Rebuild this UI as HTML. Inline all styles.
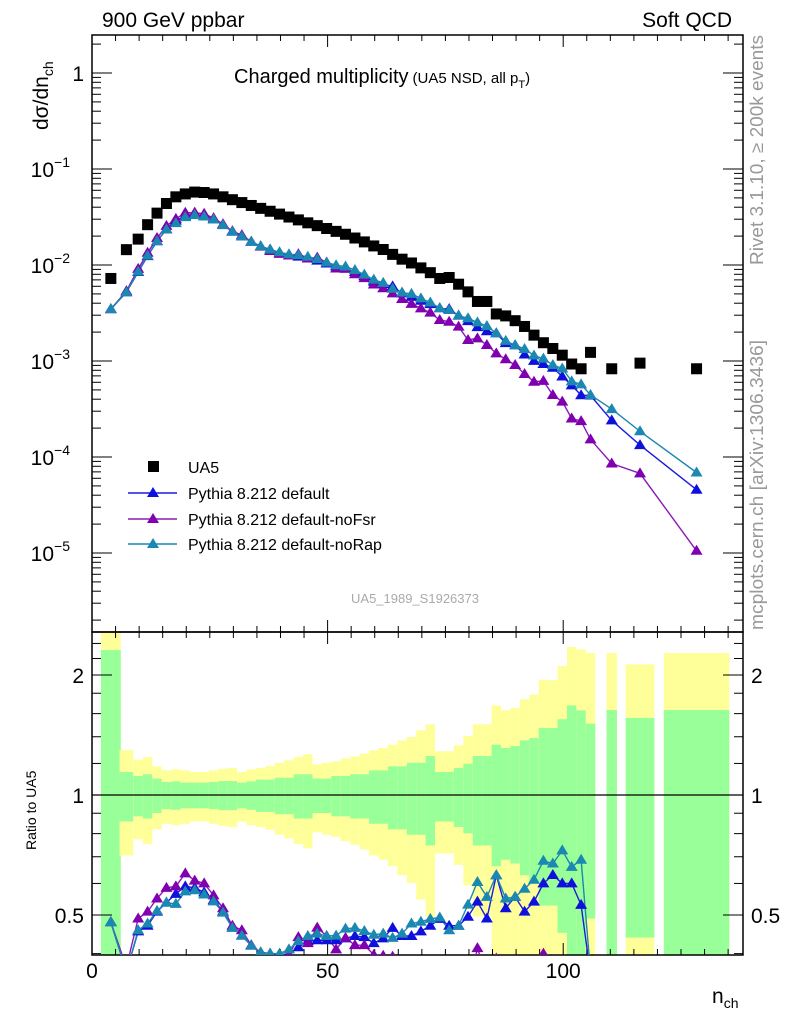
<!DOCTYPE html>
<html><head><meta charset="utf-8"><style>
html,body{margin:0;padding:0;background:#fff;width:786px;height:1024px;overflow:hidden}
svg{display:block;font-family:"Liberation Sans",Arial,sans-serif;overflow:hidden}
</style></head><body>
<svg id="chart" width="786" height="1024" viewBox="0 0 786 1024" xmlns="http://www.w3.org/2000/svg">
<defs>
<clipPath id="cm"><rect x="92" y="35" width="651" height="597"/></clipPath>
<clipPath id="cr"><rect x="92" y="632" width="651" height="323"/></clipPath>
</defs>
<g id="bands" clip-path="url(#cr)"></g>
<g id="axes"></g>
<g id="mainMarks" clip-path="url(#cm)"></g>
<g id="ratioMarks" clip-path="url(#cr)"></g>
<text x="102" y="27" font-size="21">900 GeV ppbar</text>
<text x="732" y="27" font-size="21" text-anchor="end">Soft QCD</text>
<text x="234" y="83" font-size="20">Charged multiplicity<tspan font-size="15" dx="4">(UA5 NSD, all p</tspan><tspan font-size="11" dy="5">T</tspan><tspan font-size="15" dy="-5">)</tspan></text>
<text x="415" y="603" font-size="13" fill="#aaa" text-anchor="middle">UA5_1989_S1926373</text>
<text transform="translate(48,130) rotate(-90)" font-size="21">dσ/dn<tspan font-size="14" dy="5">ch</tspan></text>
<text transform="translate(36,850) rotate(-90)" font-size="14">Ratio to UA5</text>
<text x="712" y="1003" font-size="21">n<tspan font-size="14" dy="5">ch</tspan></text>
<text transform="translate(763,265) rotate(-90)" font-size="18" fill="#999" textLength="230" lengthAdjust="spacingAndGlyphs">Rivet 3.1.10, ≥ 200k events</text>
<text transform="translate(763,630) rotate(-90)" font-size="18" fill="#999" textLength="290" lengthAdjust="spacingAndGlyphs">mcplots.cern.ch [arXiv:1306.3436]</text>
<g id="legend">
<rect x="148" y="461" width="11" height="11" fill="#000"/>
<text x="188" y="473" font-size="16">UA5</text>
<line x1="128" y1="493" x2="177" y2="493" stroke="#1a1ae0" stroke-width="1.5"/>
<path d="M153,487 l6,10 h-12z" fill="#1010dd"/>
<text x="188" y="499" font-size="16">Pythia 8.212 default</text>
<line x1="128" y1="519" x2="177" y2="519" stroke="#8a1ab8" stroke-width="1.5"/>
<path d="M153,513 l6,10 h-12z" fill="#8000b0"/>
<text x="188" y="525" font-size="16">Pythia 8.212 default-noFsr</text>
<line x1="128" y1="544" x2="177" y2="544" stroke="#1a88b0" stroke-width="1.5"/>
<path d="M153,538 l6,10 h-12z" fill="#1a88b0"/>
<text x="188" y="550" font-size="16">Pythia 8.212 default-noRap</text>
</g>
</svg>
<script>
// ---- data ----
const nch = [4,7.3,9.8,11.8,13.8,15.8,17.8,19.8,21.8,23.8,25.8,27.8,29.8,31.8,33.8,35.8,37.8,39.8,41.8,43.8,45.8,47.8,49.8,51.8,53.8,55.8,57.8,59.8,61.8,63.8,65.8,67.8,69.8,71.8,73.8,75.8,77.8,79.8,81.8,83.8,85.8,87.8,89.8,91.8,93.8,95.8,97.8,99.8,101.8,103.8,105.8,110.3,116.3,128.3];
const binHalf = [2.1,1.45,1,1,1,1,1,1,1,1,1,1,1,1,1,1,1,1,1,1,1,1,1,1,1,1,1,1,1,1,1,1,1,1,1,1,1,1,1,1,1,1,1,1,1,1,1,1,1,1,1,1.1,3.05,6.95];
const ua5 = [0.00724,0.01445,0.0186,0.0263,0.0347,0.0437,0.0513,0.0550,0.0575,0.0569,0.0550,0.0513,0.0479,0.0447,0.0417,0.0389,0.0363,0.0339,0.0316,0.0295,0.0275,0.0257,0.0240,0.0224,0.0209,0.0191,0.0174,0.0158,0.0145,0.0129,0.0115,0.0105,0.00933,0.00832,0.00724,0.00741,0.00631,0.00525,0.00417,0.00417,0.00309,0.00295,0.00263,0.00229,0.00186,0.00155,0.00135,0.00115,0.00093,0.00083,0.00123,0.00083,0.00095,0.00083];
const errYellow = [1.7,0.295,0.226,0.246,0.180,0.153,0.160,0.153,0.142,0.142,0.153,0.164,0.169,0.142,0.160,0.169,0.182,0.205,0.222,0.246,0.265,0.194,0.205,0.215,0.234,0.250,0.270,0.295,0.312,0.337,0.371,0.398,0.453,0.504,0.287,0.287,0.332,0.406,0.504,0.504,0.678,0.631,0.653,0.738,0.785,0.947,0.940,1.107,1.351,1.320,1.271,1.271,1.127,1.271];
const errGreen = [1.31,0.142,0.116,0.127,0.099,0.078,0.082,0.074,0.074,0.074,0.078,0.084,0.084,0.074,0.082,0.093,0.093,0.105,0.105,0.127,0.127,0.099,0.099,0.116,0.116,0.127,0.127,0.153,0.153,0.180,0.180,0.205,0.205,0.253,0.142,0.142,0.169,0.198,0.253,0.253,0.337,0.312,0.327,0.371,0.39,0.472,0.472,0.549,0.678,0.631,0.51,0.634,0.561,0.634];
const ratioDefault = [0.48,0.36,0.455,0.47,0.51,0.537,0.565,0.59,0.585,0.57,0.545,0.51,0.465,0.444,0.419,0.403,0.40,0.398,0.398,0.415,0.43,0.432,0.432,0.432,0.437,0.443,0.44,0.425,0.437,0.464,0.443,0.443,0.455,0.47,0.489,0.47,0.47,0.495,0.54,0.49,0.629,0.52,0.555,0.51,0.54,0.60,0.63,0.60,0.60,0.53,0.355,0.29,0.14,0.055];
const ratioNoFsr = [0.48,0.37,0.49,0.51,0.55,0.585,0.59,0.636,0.61,0.60,0.56,0.52,0.47,0.458,0.42,0.40,0.385,0.385,0.397,0.44,0.425,0.465,0.443,0.41,0.438,0.42,0.42,0.397,0.395,0.393,0.385,0.375,0.379,0.383,0.369,0.346,0.361,0.315,0.413,0.352,0.389,0.353,0.345,0.32,0.327,0.40,0.328,0.328,0.271,0.285,0.124,0.103,0.071,0.0127];
const ratioNoRap = [0.48,0.36,0.458,0.476,0.512,0.537,0.533,0.573,0.577,0.563,0.541,0.507,0.464,0.444,0.419,0.403,0.40,0.40,0.41,0.430,0.443,0.449,0.443,0.444,0.462,0.464,0.456,0.446,0.449,0.438,0.449,0.476,0.481,0.489,0.493,0.458,0.470,0.531,0.605,0.555,0.629,0.550,0.555,0.582,0.613,0.684,0.673,0.726,0.660,0.688,0.36,0.38,0.195,0.083];
const xTicksMajor = [0,50,100];
const mainTickExps = [0,-1,-2,-3,-4,-5];
const ratioTickValues = [2,1,0.5];
const ratioTickLabels = ["2","1","0.5"];

// ---- axes ----
const NS='http://www.w3.org/2000/svg';
const X0=92, X1=743, MT=35, MB=632, RB=955;
const xS = n => 92 + n*4.712;
const yM = v => 73 - 96*Math.log10(v);
const yR = r => 795 - 120*Math.log2(r);
function mk(tag, attrs, parent){const e=document.createElementNS(NS,tag);for(const k in attrs)e.setAttribute(k,attrs[k]);parent.appendChild(e);return e;}
const axes=document.getElementById('axes');
const bands=document.getElementById('bands');
const mainG=document.getElementById('mainMarks');
const ratG=document.getElementById('ratioMarks');

for(let i=0;i<nch.length;i++){
  const xl=xS(nch[i]-binHalf[i]), xr=xS(nch[i]+binHalf[i]);
  const yy=errYellow[i], gg=errGreen[i];
  const yt=Math.max(yR(1+yy),MB), yb=(1-yy)>0.01?Math.min(yR(1-yy),RB):RB;
  const r1=mk('rect',{x:xl,y:yt,width:xr-xl,height:yb-yt,fill:'#ffff99'},bands);
  
  
  const gt=Math.max(yR(1+gg),MB), gb=(1-gg)>0.01?Math.min(yR(1-gg),RB):RB;
  const r2=mk('rect',{x:xl,y:gt,width:xr-xl,height:gb-gt,fill:'#99ff99'},bands);
  
  
}
mk('line',{x1:X0,y1:795,x2:X1,y2:795,stroke:'#000','stroke-width':1.3},bands);

const f1=mk('rect',{x:X0,y:MT,width:X1-X0,height:MB-MT,fill:'none',stroke:'#000','stroke-width':1.5},axes);


const f2=mk('rect',{x:X0,y:MB,width:X1-X0,height:RB-MB,fill:'none',stroke:'#000','stroke-width':1.5},axes);



for(let n=0;n<=135;n+=10){
  const x=xS(n); const major=xTicksMajor.includes(n);
  const L=major?12:6;
  [[MT,1],[MB,-1],[MB,1],[RB,-1]].forEach(([y,d])=>mk('line',{x1:x,y1:y,x2:x,y2:y+d*L,stroke:'#000','stroke-width':1},axes));
}
for(let n=5;n<=135;n+=10){ const x=xS(n);
  [[MT,1],[MB,-1],[MB,1],[RB,-1]].forEach(([y,d])=>mk('line',{x1:x,y1:y,x2:x,y2:y+d*6,stroke:'#000','stroke-width':1},axes));
}
xTicksMajor.forEach(n=>{
  const t=mk('text',{x:xS(n),y:978,'font-size':21,'text-anchor':'middle'},axes);
  t.textContent=String(n);
  
  
});
for(let e=0;e>=-6;e--){
  for(let m=1;m<10;m++){
    const v=m*Math.pow(10,e), y=yM(v);
    if(y<MT||y>MB) continue;
    const L=m===1?20:9;
    mk('line',{x1:X0,y1:y,x2:X0+L,y2:y,stroke:'#000','stroke-width':1},axes);
    mk('line',{x1:X1,y1:y,x2:X1-L,y2:y,stroke:'#000','stroke-width':1},axes);
  }
}
mainTickExps.forEach(e=>{
  const y=yM(Math.pow(10,e));
  const t=mk('text',{x:84,y:y+8,'font-size':21,'text-anchor':'end'},axes);
  
  
  if(e===0){t.textContent='1';}
  else{
    t.setAttribute('x',70);
    t.textContent='10';
    const s=mk('tspan',{'font-size':14,dy:-10},t); s.textContent='−'+(-e);
  }
});
const rminor=[0.4,0.5,0.6,0.7,0.8,0.9,1,1.2,1.4,1.6,1.8,2,2.2,2.4];
rminor.forEach(r=>{
  const y=yR(r), L=ratioTickValues.includes(r)?20:9;
  mk('line',{x1:X0,y1:y,x2:X0+L,y2:y,stroke:'#000','stroke-width':1},axes);
  mk('line',{x1:X1,y1:y,x2:X1-L,y2:y,stroke:'#000','stroke-width':1},axes);
});
ratioTickValues.forEach((r,i)=>{
  const y=yR(r)+8;
  const t=mk('text',{x:84,y:y,'font-size':21,'text-anchor':'end'},axes);
  t.textContent=ratioTickLabels[i];
  
  
  const t2=mk('text',{x:751,y:y,'font-size':21},axes);
  t2.textContent=ratioTickLabels[i];
  
  
});

const series=[
  {name:'default',r:ratioDefault,line:'#1a1ae0',fill:'#1010dd'},
  {name:'nofsr',r:ratioNoFsr,line:'#8a1ab8',fill:'#8000b0'},
  {name:'norap',r:ratioNoRap,line:'#1a88b0',fill:'#1a88b0'}
];
function tri(g,x,y,c){return mk('path',{d:`M${x},${y-6} l6,10 h-12z`,fill:c},g);}
series.forEach(s=>{
  const mc=s.r.map((r,i)=>r*ua5[i]);
  const pm=mc.map((v,i)=>xS(nch[i]).toFixed(1)+','+yM(v).toFixed(1)).join(' ');
  const l1=mk('polyline',{points:pm,fill:'none',stroke:s.line,'stroke-width':1.4},mainG);
  
  
  const pr=s.r.map((r,i)=>xS(nch[i]).toFixed(1)+','+yR(r).toFixed(1)).join(' ');
  const l2=mk('polyline',{points:pr,fill:'none',stroke:s.line,'stroke-width':1.4},ratG);
  
  
});
series.forEach(s=>{
  s.r.forEach((r,i)=>{
    const v=r*ua5[i];
    const p=tri(mainG,xS(nch[i]),yM(v),s.fill);
    
    
    const q=tri(ratG,xS(nch[i]),yR(r),s.fill);
    
    
  });
});
ua5.forEach((v,i)=>{
  const r=mk('rect',{x:xS(nch[i])-5.5,y:yM(v)-5.5,width:11,height:11,fill:'#000'},mainG);
  
  
});
</script>
</body></html>
